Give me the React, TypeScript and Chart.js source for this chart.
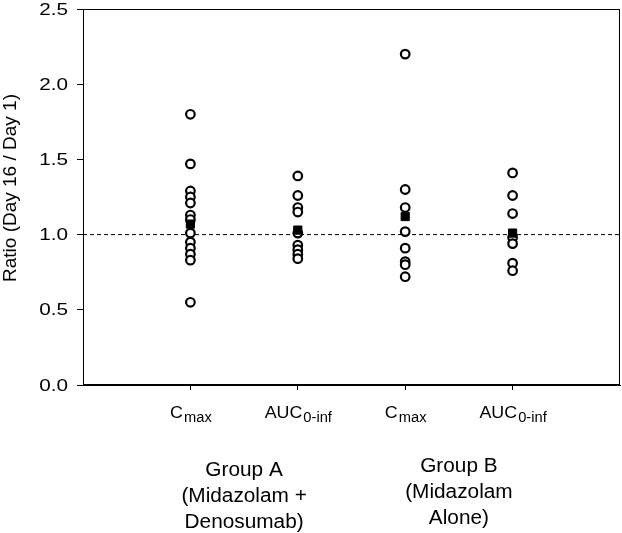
import React, { useEffect, useRef } from "react";
import { Chart, registerables } from "chart.js";

Chart.register(...registerables);

// Column positions on the x axis (1..4), main & subscript tick text
const columnPositions = [1, 2, 3, 4];
const tickMain = ["C", "AUC", "C", "AUC"];
const tickSub = ["max", "0-inf", "max", "0-inf"];
const groupLabels = [
  ["Group A", "(Midazolam +", "Denosumab)"],
  ["Group B", "(Midazolam", "Alone)"],
];
const yTicks = [0, 0.5, 1.0, 1.5, 2.0, 2.5];
const yTitle = "Ratio (Day 16 / Day 1)";
const referenceLevel = 1.0;

// Individual ratios (open circles)
const cmaxA = [1.8, 1.47, 1.29, 1.25, 1.21, 1.13, 1.1, 1.01, 0.95, 0.91, 0.87, 0.83, 0.55];
const aucA = [1.39, 1.26, 1.18, 1.15, 1.01, 0.93, 0.9, 0.87, 0.84];
const cmaxB = [2.2, 1.3, 1.18, 1.02, 0.91, 0.82, 0.8, 0.72];
const aucB = [1.41, 1.26, 1.14, 0.98, 0.94, 0.81, 0.76];
// Geometric means (filled squares)
const means = [1.07, 1.03, 1.12, 1.01];

const FONT = "'Liberation Sans', Arial, sans-serif";

export default function App() {
  const ref = useRef<HTMLCanvasElement | null>(null);

  useEffect(() => {
    if (!ref.current) return;
    const series = [cmaxA, aucA, cmaxB, aucB];

    const circleSets = series.map((vals, i) => ({
      type: "scatter" as const,
      data: vals.map((v) => ({ x: columnPositions[i], y: v })),
      pointStyle: "circle",
      pointRadius: 4.3,
      pointBorderWidth: 2.2,
      pointBackgroundColor: "#ffffff",
      pointBorderColor: "#000000",
      order: 2,
    }));

    const meanSet = {
      type: "scatter" as const,
      data: means.map((v, i) => ({ x: columnPositions[i], y: v })),
      pointStyle: "rect",
      pointRadius: 5.8,
      pointBorderWidth: 1,
      pointBackgroundColor: "#000000",
      pointBorderColor: "#000000",
      order: 1,
    };

    const refLine = {
      type: "line" as const,
      data: [
        { x: 0, y: referenceLevel },
        { x: 5, y: referenceLevel },
      ],
      borderColor: "#000000",
      borderWidth: 1,
      borderDash: [4, 3],
      pointRadius: 0,
      order: 3,
    };

    const decor = {
      id: "decor",
      afterDraw(chart: any) {
        const { ctx, chartArea, scales } = chart;
        ctx.save();
        // frame
        ctx.strokeStyle = "#000";
        ctx.lineWidth = 1;
        ctx.strokeRect(
          Math.round(chartArea.left) + 0.5,
          Math.round(chartArea.top) + 0.5,
          Math.round(chartArea.right - chartArea.left) - 1,
          Math.round(chartArea.bottom - chartArea.top) - 1
        );
        ctx.fillStyle = "#000";

        // y tick labels (slightly wide face)
        const ys = scales.y;
        ctx.font = `17px ${FONT}`;
        ctx.textAlign = "right";
        ctx.textBaseline = "middle";
        yTicks.forEach((v) => {
          const py = ys.getPixelForValue(v);
          ctx.save();
          ctx.translate(chartArea.left - 15, py);
          ctx.scale(1.22, 1);
          ctx.fillText(v.toFixed(1), 0, 1);
          ctx.restore();
        });

        // x tick labels with subscripts
        const xs = scales.x;
        const mainFont = `17px ${FONT}`;
        const subFont = `14px ${FONT}`;
        ctx.textBaseline = "alphabetic";
        columnPositions.forEach((p, i) => {
          const cx = xs.getPixelForValue(p);
          ctx.font = mainFont;
          const w1 = ctx.measureText(tickMain[i]).width * 1.05;
          ctx.font = subFont;
          const w2 = ctx.measureText(tickSub[i]).width * 1.05;
          const start = cx - (w1 + w2) / 2;
          ctx.textAlign = "left";
          ctx.save();
          ctx.translate(start, chartArea.bottom + 33);
          ctx.scale(1.05, 1);
          ctx.font = mainFont;
          ctx.fillText(tickMain[i], 0, 0);
          ctx.restore();
          ctx.save();
          ctx.translate(start + w1 + 1, chartArea.bottom + 37);
          ctx.scale(1.05, 1);
          ctx.font = subFont;
          ctx.fillText(tickSub[i], 0, 0);
          ctx.restore();
        });

        // group labels
        ctx.font = `20px ${FONT}`;
        ctx.textAlign = "center";
        groupLabels.forEach((lines, g) => {
          const cx =
            (xs.getPixelForValue(columnPositions[g * 2]) +
              xs.getPixelForValue(columnPositions[g * 2 + 1])) /
            2;
          const base = chartArea.bottom + (g === 0 ? 91 : 87);
          lines.forEach((t, k) => {
            ctx.save();
            ctx.translate(cx, base + k * 26);
            ctx.scale(1.04, 1);
            ctx.fillText(t, 0, 0);
            ctx.restore();
          });
        });

        // y title
        ctx.font = `19px ${FONT}`;
        ctx.textAlign = "center";
        ctx.textBaseline = "middle";
        ctx.translate(11, (chartArea.top + chartArea.bottom) / 2 - 9);
        ctx.rotate(-Math.PI / 2);
        ctx.scale(1, 0.92);
        ctx.fillText(yTitle, 0, 0);
        ctx.restore();
      },
    };

    const chart = new Chart(ref.current, {
      type: "scatter",
      data: { datasets: [refLine, ...circleSets, meanSet] as any },
      options: {
        responsive: false,
        animation: false,
        devicePixelRatio: 1,
        layout: { autoPadding: false, padding: { top: 9, right: 2, left: 0, bottom: 0 } },
        plugins: {
          legend: { display: false },
          tooltip: { enabled: false },
        },
        scales: {
          x: {
            type: "linear",
            min: 0,
            max: 5,
            afterBuildTicks: (s: any) => {
              s.ticks = columnPositions.map((v) => ({ value: v }));
            },
            afterFit: (s: any) => {
              s.height = 148;
              s.paddingLeft = 0;
              s.paddingRight = 0;
            },
            ticks: { display: false },
            grid: {
              drawOnChartArea: false,
              drawTicks: true,
              tickLength: 5,
              color: "#000",
            },
            border: { display: true, color: "#000", width: 1 },
          },
          y: {
            type: "linear",
            min: 0,
            max: 2.5,
            afterBuildTicks: (s: any) => {
              s.ticks = yTicks.map((v) => ({ value: v }));
            },
            afterFit: (s: any) => {
              s.width = 83;
              s.paddingTop = 0;
              s.paddingBottom = 0;
            },
            ticks: { display: false },
            grid: {
              drawOnChartArea: false,
              drawTicks: true,
              tickLength: 6,
              color: "#000",
            },
            border: { display: true, color: "#000", width: 1 },
          },
        },
      },
      plugins: [decor],
    });
    return () => chart.destroy();
  }, []);

  return (
    <div style={{ position: "absolute", left: 0, top: 0, width: 622, height: 533, background: "#fff" }}>
      <canvas ref={ref} width={622} height={533} style={{ display: "block" }} />
    </div>
  );
}
